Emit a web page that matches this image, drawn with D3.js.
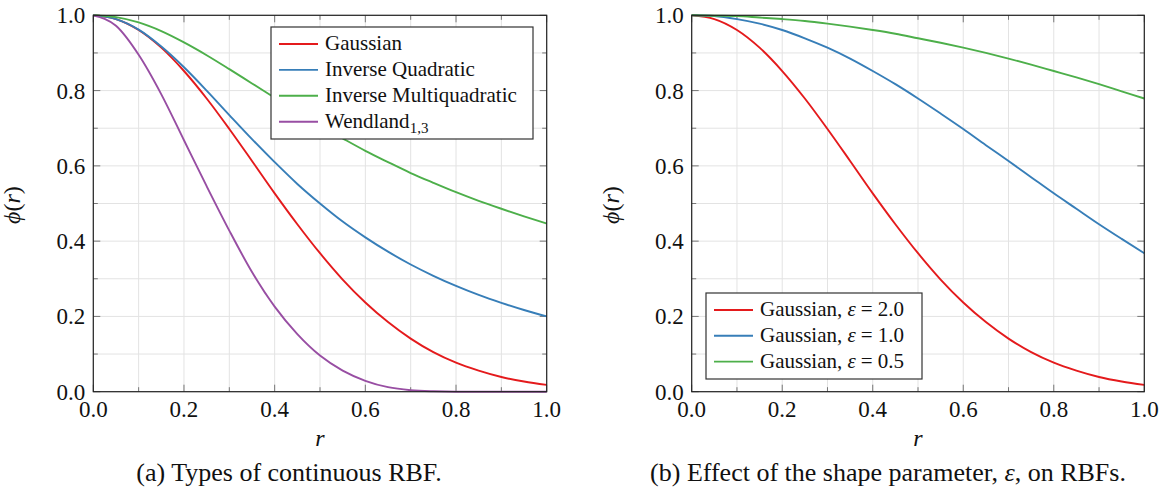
<!DOCTYPE html>
<html>
<head>
<meta charset="utf-8">
<script src="https://cdn.jsdelivr.net/npm/d3@7"></script>
<style>
  body { margin: 0; background: #fff; }
</style>
</head>
<body>
<svg width="1165" height="495"></svg>
<script>
const width = 1165;
const height = 495;
const serif = "'Liberation Serif', 'Times New Roman', 'DejaVu Serif', serif";

// r samples
const r = [0, 0.05, 0.1, 0.15, 0.2, 0.25, 0.3, 0.35, 0.4, 0.45, 0.5,
           0.55, 0.6, 0.65, 0.7, 0.75, 0.8, 0.85, 0.9, 0.95, 1.0];

// panel (a)
const gaussian = [1, 0.990, 0.961, 0.914, 0.852, 0.779, 0.698, 0.613, 0.527, 0.445, 0.368,
                  0.298, 0.237, 0.185, 0.141, 0.105, 0.077, 0.056, 0.039, 0.027, 0.018];
const invQuadratic = [1, 0.990, 0.962, 0.917, 0.862, 0.800, 0.735, 0.671, 0.610, 0.552, 0.500,
                      0.452, 0.410, 0.372, 0.338, 0.308, 0.281, 0.257, 0.236, 0.217, 0.200];
const invMultiquadratic = [1, 0.995, 0.981, 0.958, 0.928, 0.894, 0.857, 0.819, 0.781, 0.743, 0.707,
                           0.673, 0.640, 0.610, 0.581, 0.555, 0.530, 0.507, 0.486, 0.466, 0.447];
const wendland = [1, 0.972, 0.895, 0.790, 0.668, 0.546, 0.428, 0.318, 0.226, 0.153, 0.096,
                  0.056, 0.029, 0.012, 0.004, 0.001, 0, 0, 0, 0, 0];

// panel (b)
const gaussEps2 = gaussian;
const gaussEps1 = [1, 0.998, 0.990, 0.978, 0.961, 0.939, 0.914, 0.885, 0.852, 0.817, 0.779,
                   0.739, 0.698, 0.655, 0.613, 0.570, 0.527, 0.486, 0.445, 0.406, 0.368];
const gaussEps05 = [1, 0.999, 0.998, 0.994, 0.990, 0.985, 0.978, 0.970, 0.961, 0.951, 0.939,
                    0.927, 0.914, 0.900, 0.885, 0.869, 0.852, 0.835, 0.817, 0.798, 0.779];

const ticks = [0, 0.2, 0.4, 0.6, 0.8, 1.0];
const minorTicks = [0.1, 0.3, 0.5, 0.7, 0.9];

const red = "#e41a1c", blue = "#377eb8", green = "#4daf4a", purple = "#984ea3";

const svg = d3.select("svg");

const panels = [
  {
    x0: 93.3, x1: 546.7, capX: 289, caption: "(a) Types of continuous RBF.",
    series: [
      { values: gaussian, color: red, label: ["Gaussian"] },
      { values: invQuadratic, color: blue, label: ["Inverse Quadratic"] },
      { values: invMultiquadratic, color: green, label: ["Inverse Multiquadratic"] },
      { values: wendland, color: purple, label: ["Wendland", "1,3"] }
    ],
    legend: { x: 271, y: 27, w: 262, h: 112, row0: 44, step: 25.9 }
  },
  {
    x0: 691.7, x1: 1144.3, capX: 888, caption: null,
    series: [
      { values: gaussEps2, color: red, eps: "2.0" },
      { values: gaussEps1, color: blue, eps: "1.0" },
      { values: gaussEps05, color: green, eps: "0.5" }
    ],
    legend: { x: 706, y: 293, w: 216, h: 86, row0: 310, step: 25.8 }
  }
];

const y0 = 15.3, y1 = 391.7;

panels.forEach(p => {
  const x = d3.scaleLinear().domain([0, 1]).range([p.x0, p.x1]);
  const y = d3.scaleLinear().domain([0, 1]).range([y1, y0]);
  const g = svg.append("g").attr("font-family", serif);

  // grid at every 0.1
  const gridVals = ticks.concat(minorTicks);
  g.selectAll("line.gx").data(gridVals).enter().append("line")
    .attr("x1", d => x(d)).attr("x2", d => x(d))
    .attr("y1", y0).attr("y2", y1)
    .style("stroke", "#e3e3e3").style("stroke-width", 1);
  g.selectAll("line.gy").data(gridVals).enter().append("line")
    .attr("y1", d => y(d)).attr("y2", d => y(d))
    .attr("x1", p.x0).attr("x2", p.x1)
    .style("stroke", "#e3e3e3").style("stroke-width", 1);

  // inward ticks on all four sides
  const tickSet = ticks.map(v => ({ v, len: 7 })).concat(minorTicks.map(v => ({ v, len: 4.5 })));
  tickSet.forEach(t => {
    [[y1, -1], [y0, 1]].forEach(([yy, dir]) => {
      g.append("line")
        .attr("x1", x(t.v)).attr("x2", x(t.v))
        .attr("y1", yy).attr("y2", yy + dir * t.len)
        .style("stroke", "#777").style("stroke-width", 1);
    });
    [[p.x0, 1], [p.x1, -1]].forEach(([xx, dir]) => {
      g.append("line")
        .attr("y1", y(t.v)).attr("y2", y(t.v))
        .attr("x1", xx).attr("x2", xx + dir * t.len)
        .style("stroke", "#777").style("stroke-width", 1);
    });
  });

  // tick labels
  g.selectAll("text.xt").data(ticks).enter().append("text")
    .attr("x", d => x(d)).attr("y", 417)
    .attr("text-anchor", "middle")
    .style("font-size", "23px").style("fill", "#111")
    .text(d => d.toFixed(1));
  g.selectAll("text.yt").data(ticks).enter().append("text")
    .attr("x", p.x0 - 8).attr("y", d => y(d) + 8)
    .attr("text-anchor", "end")
    .style("font-size", "23px").style("fill", "#111")
    .text(d => d.toFixed(1));

  // curves
  const line = d3.line()
    .x((d, i) => x(r[i]))
    .y(d => y(d))
    .curve(d3.curveMonotoneX);
  p.series.forEach(s => {
    g.append("path")
      .attr("d", line(s.values))
      .style("fill", "none")
      .style("stroke", s.color)
      .style("stroke-width", 1.9);
  });

  // frame
  g.append("rect")
    .attr("x", p.x0).attr("y", y0)
    .attr("width", p.x1 - p.x0).attr("height", y1 - y0)
    .style("fill", "none").style("stroke", "#222").style("stroke-width", 1.2);

  // legend
  const L = p.legend;
  g.append("rect")
    .attr("x", L.x).attr("y", L.y).attr("width", L.w).attr("height", L.h)
    .style("fill", "#fff").style("stroke", "#333").style("stroke-width", 1.2);
  p.series.forEach((s, i) => {
    const ly = L.row0 + i * L.step;
    g.append("line")
      .attr("x1", L.x + 8).attr("x2", L.x + 47)
      .attr("y1", ly).attr("y2", ly)
      .style("stroke", s.color).style("stroke-width", 1.9);
    const t = g.append("text")
      .attr("x", L.x + 54).attr("y", ly + 6)
      .style("font-size", "21px").style("fill", "#111");
    if (s.label) {
      t.append("tspan").text(s.label[0]);
      if (s.label[1]) {
        t.append("tspan").attr("dy", 5).style("font-size", "15px").text(s.label[1]);
      }
    } else {
      t.append("tspan").text("Gaussian, ");
      t.append("tspan").style("font-style", "italic").text("ε");
      t.append("tspan").attr("dx", 5).text("=");
      t.append("tspan").attr("dx", 5).text(s.eps);
    }
  });

  // axis labels
  g.append("text")
    .attr("x", (p.x0 + p.x1) / 2).attr("y", 446)
    .attr("text-anchor", "middle")
    .style("font-size", "24px").style("font-style", "italic").style("fill", "#111")
    .text("r");
  const yl = g.append("text")
    .attr("transform", `translate(${p.x0 - 73},205) rotate(-90)`)
    .attr("text-anchor", "middle")
    .style("font-size", "24px").style("fill", "#111");
  yl.append("tspan").style("font-style", "italic").text("ϕ");
  yl.append("tspan").text("(");
  yl.append("tspan").style("font-style", "italic").text("r");
  yl.append("tspan").text(")");

  // caption
  const cap = g.append("text")
    .attr("x", p.capX).attr("y", 481)
    .attr("text-anchor", "middle")
    .style("font-size", "26px").style("fill", "#111");
  if (p.caption) {
    cap.text(p.caption);
  } else {
    cap.append("tspan").text("(b) Effect of the shape parameter, ");
    cap.append("tspan").style("font-style", "italic").text("ε");
    cap.append("tspan").text(", on RBFs.");
  }
});
</script>
</body>
</html>
